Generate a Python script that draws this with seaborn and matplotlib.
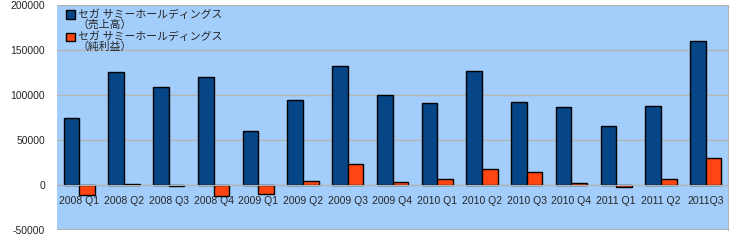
import matplotlib
matplotlib.use("Agg")
import matplotlib.pyplot as plt
import seaborn as sns
import pandas as pd
from matplotlib.ticker import FixedLocator
from matplotlib.patches import Rectangle
from matplotlib.legend_handler import HandlerPatch

quarters = ["2008 Q1", "2008 Q2", "2008 Q3", "2008 Q4",
            "2009 Q1", "2009 Q2", "2009 Q3", "2009 Q4",
            "2010 Q1", "2010 Q2", "2010 Q3", "2010 Q4",
            "2011 Q1", "2011 Q2", "2011Q3"]
sales = [74800, 126100, 109400, 120500, 60300, 94900, 131700, 100400,
         91500, 127200, 92600, 87100, 65800, 88200, 159600]
profit = [-11500, 1300, -1100, -12700, -9700, 4500, 23400, 3700,
          6700, 17900, 14500, 2200, -2200, 6700, 30100]
series_names = ["セガ サミーホールディングス\n（売上高）",
                "セガ サミーホールディングス\n（純利益）"]
colors = ["#064586", "#ff4612"]
yticks = [-50000, 0, 50000, 100000, 150000, 200000]

df = pd.DataFrame({
    "quarter": quarters * 2,
    "value": sales + profit,
    "series": [series_names[0]] * len(quarters) + [series_names[1]] * len(quarters),
})

sns.set_style("white")
plt.rcParams["font.family"] = ["Liberation Sans", "Noto Sans CJK JP", "DejaVu Sans"]

fig = plt.figure(figsize=(7.32, 2.40), dpi=100)
ax = fig.add_axes([57 / 732, 1 - 230 / 240, (728 - 57) / 732, 225 / 240])
ax.set_facecolor("#a3cdfb")

sns.barplot(data=df, x="quarter", y="value", hue="series", palette=colors,
            saturation=1, width=0.7, edgecolor="black", linewidth=1.0,
            ax=ax, legend=True)

ax.set_ylim(-50000, 200000)
ax.set_xlim(-0.5, len(quarters) - 0.5)
ax.set_yticks(yticks)
ax.set_yticklabels([str(v) for v in yticks], fontsize=7.5)
ax.yaxis.grid(True, color="#b4b4b4", linewidth=1)
ax.set_axisbelow(True)
ax.set_xlabel("")
ax.set_ylabel("")

for s in ["top", "left"]:
    ax.spines[s].set_visible(False)
ax.spines["right"].set_color("#b4b4b4")
ax.spines["bottom"].set_position(("data", 0))
ax.spines["bottom"].set_color("#b4b4b4")
ax.axhline(-50000, color="#b4b4b4", linewidth=1.5)

ax.tick_params(axis="y", length=5, color="#b4b4b4", pad=3.6, labelsize=7.5)
ax.set_xticks(range(len(quarters)))
ax.set_xticklabels(quarters, fontsize=7.5)
ax.tick_params(axis="x", which="major", length=0, pad=8, labelsize=7.5)
ax.xaxis.set_minor_locator(FixedLocator([i + 0.5 for i in range(len(quarters) - 1)]))
ax.tick_params(axis="x", which="minor", length=4, color="#b4b4b4", direction="out")


def top_square(legend, orig_handle, xdescent, ydescent, width, height, fontsize):
    shift = 0.48 * fontsize
    return Rectangle((-xdescent, -ydescent + shift), width, height)


handles, labels = ax.get_legend_handles_labels()
leg = ax.legend(handles, labels, loc="upper left", bbox_to_anchor=(0.007, 1.0),
                frameon=False, fontsize=7.8, handlelength=0.8, handleheight=0.8,
                handletextpad=0.3, labelspacing=0.2, borderaxespad=0,
                handler_map={h: HandlerPatch(patch_func=top_square) for h in handles})
for t in leg.get_texts():
    t.set_linespacing(0.92)
for h in leg.legend_handles:
    h.set_edgecolor("black")
    h.set_linewidth(1)

fig.savefig("out.png", dpi=100)
